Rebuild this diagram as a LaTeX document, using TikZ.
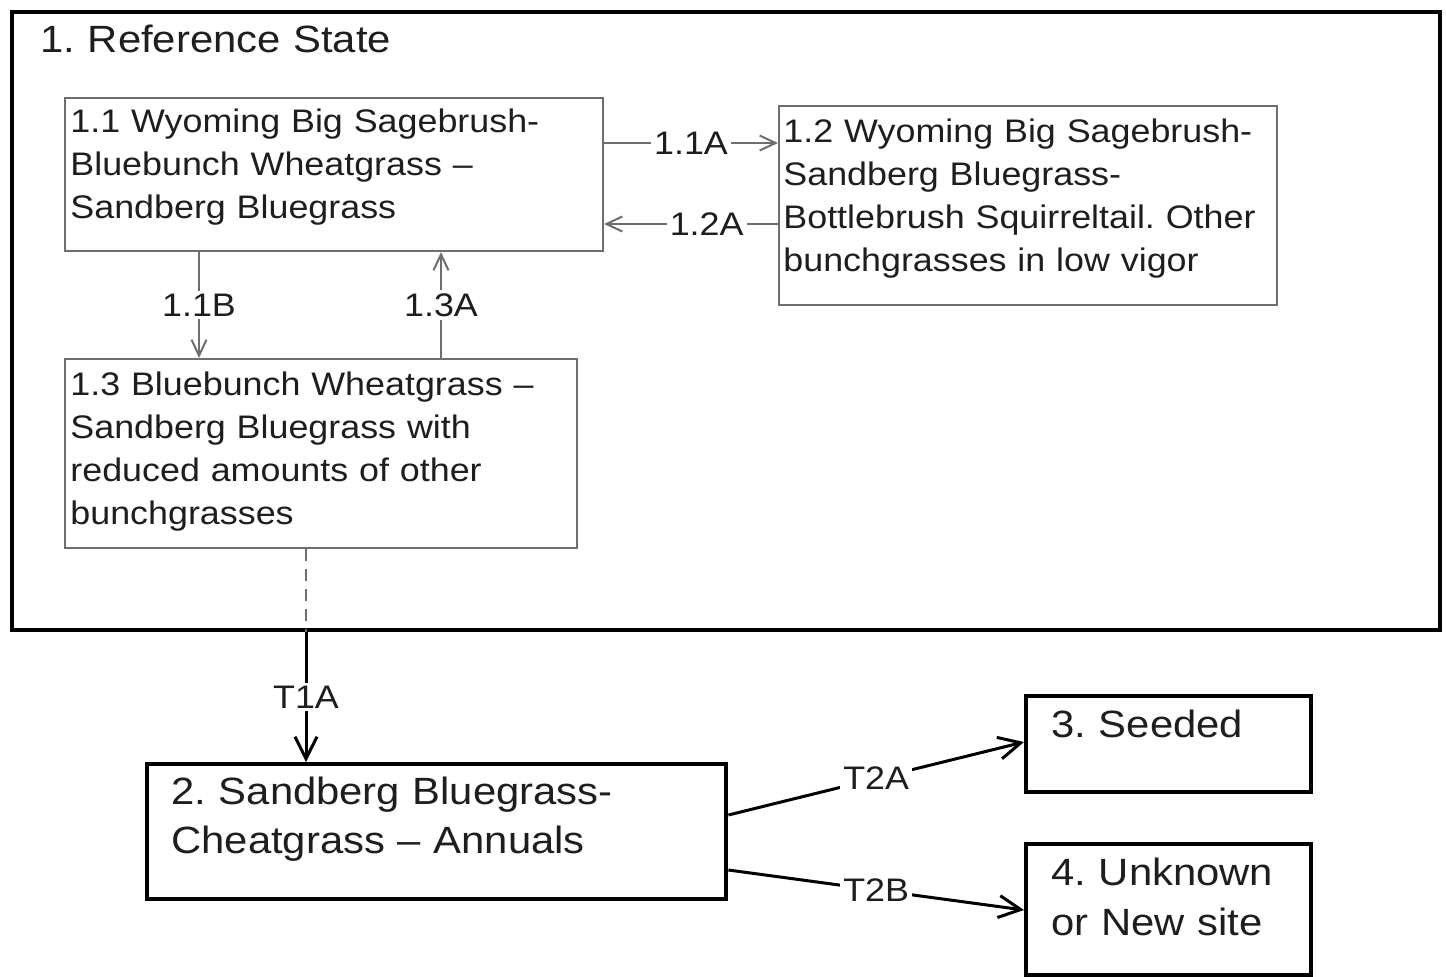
\documentclass[tikz,border=0pt]{standalone}
\usepackage{fontspec}
\setmainfont[FakeStretch=1.1]{Liberation Sans}
\usepackage{tikz}
\usetikzlibrary{arrows.meta}
\frenchspacing
\definecolor{stGray}{RGB}{110, 110, 110}
\definecolor{stText}{RGB}{30, 30, 30}
\tikzset{
    base/.style={
        font=\fontsize{16.3}{21.5}\selectfont,
        text=stText
    },
    subbox/.style={
        rectangle,
        draw=stGray,
        line width=1pt,
        anchor=north west,
        inner sep=0pt
    },
    statebox/.style={
        rectangle,
        draw=black,
        line width=2.2pt,
        anchor=north west,
        inner sep=0pt
    },
    boxtext/.style={
        base,
        anchor=base west,
        align=left,
        text width=290pt,
        inner sep=0pt
    },
    bigtext/.style={
        boxtext,
        font=\fontsize{19}{24.5}\selectfont
    },
    pathway/.style={
        draw=stGray,
        line width=1pt,
        -{Straight Barb[length=8pt, width=7.5pt]}
    },
    trans/.style={
        draw=black,
        line width=1.5pt,
        -{Straight Barb[length=11pt, width=11pt]}
    },
    trlabel/.style={
        base,
        fill=white,
        inner sep=1.5pt
    }
}

\begin{document}
\begin{tikzpicture}[x=0.5pt, y=-0.5pt]
  \useasboundingbox (0,0) rectangle (1446,976);

  % Reference state
  \node[statebox, line width=2pt, minimum width=714pt, minimum height=309pt] (ref) at (10,10) {};
  \node[bigtext] (title) at (40,52) {1. Reference State};

  % Community phases
  \node[subbox, minimum width=269pt, minimum height=76.5pt] (b11) at (64,97) {};
  \node[boxtext] (t11) at (70,132) {1.1 Wyoming Big Sagebrush-\\Bluebunch Wheatgrass --\\Sandberg Bluegrass};

  \node[subbox, minimum width=249pt, minimum height=99.5pt] (b12) at (778,105) {};
  \node[boxtext] (t12) at (783,142) {1.2 Wyoming Big Sagebrush-\\Sandberg Bluegrass-\\Bottlebrush Squirreltail. Other\\bunchgrasses in low vigor};

  \node[subbox, minimum width=256pt, minimum height=94.5pt] (b13) at (64,358) {};
  \node[boxtext] (t13) at (70,395) {1.3 Bluebunch Wheatgrass --\\Sandberg Bluegrass with\\reduced amounts of other\\bunchgrasses};

  % Other states
  \node[statebox, minimum width=289.5pt, minimum height=67.5pt] (b2) at (145,762) {};
  \node[bigtext] (t2) at (171,804) {2. Sandberg Bluegrass-\\Cheatgrass -- Annuals};

  \node[statebox, minimum width=142.5pt, minimum height=48pt] (b3) at (1024,694) {};
  \node[bigtext] (t3) at (1051,737) {3. Seeded};

  \node[statebox, minimum width=142.5pt, minimum height=65.5pt] (b4) at (1024,842) {};
  \node[bigtext, font=\fontsize{19}{25}\selectfont] (t4) at (1051,885) {4. Unknown\\or New site};

  % Pathways
  \draw[pathway] (b11.east |- 0,143) -- node[trlabel] {1.1A} (b12.west |- 0,143);
  \draw[pathway] (b12.west |- 0,224) -- node[trlabel, pos=0.41] {1.2A} (b11.east |- 0,224);
  \draw[pathway] (b11.south -| 199,0) -- node[trlabel] {1.1B} (b13.north -| 199,0);
  \draw[pathway] (b13.north -| 441,0) -- node[trlabel] {1.3A} (b11.south -| 441,0);

  % Transitions
  \draw[stGray, line width=1pt, dash pattern=on 6pt off 4pt] (b13.south -| 306,0) -- (ref.south -| 306,0);
  \draw[trans] (ref.south -| 306,0) -- node[trlabel] {T1A} (b2.north -| 306,0);
  \draw[trans] (b2.east |- 0,815) -- node[trlabel] {T2A} (b3.west |- 0,742);
  \draw[trans] (b2.east |- 0,870) -- node[trlabel] {T2B} (b4.west |- 0,910);
\end{tikzpicture}
\end{document}
